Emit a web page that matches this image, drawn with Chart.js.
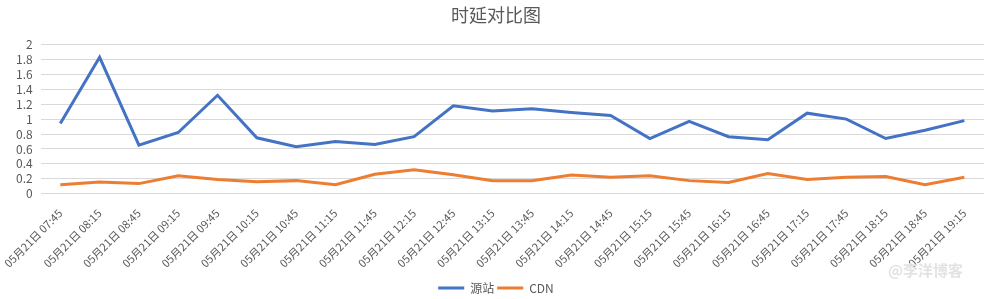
<!DOCTYPE html>
<html>
<head>
<meta charset="utf-8">
<script src="https://cdn.jsdelivr.net/npm/chart.js@4/dist/chart.umd.min.js"></script>
<style>
  html, body { margin: 0; padding: 0; background: #fff; }
  #wrap { width: 985px; height: 299px; }
</style>
</head>
<body>
<div id="wrap"><canvas id="chart"></canvas></div>
<script>
// 时延对比图：源站 vs CDN
const labels = [
    "05月21日 07:45", "05月21日 08:15", "05月21日 08:45", "05月21日 09:15",
    "05月21日 09:45", "05月21日 10:15", "05月21日 10:45", "05月21日 11:15",
    "05月21日 11:45", "05月21日 12:15", "05月21日 12:45", "05月21日 13:15",
    "05月21日 13:45", "05月21日 14:15", "05月21日 14:45", "05月21日 15:15",
    "05月21日 15:45", "05月21日 16:15", "05月21日 16:45", "05月21日 17:15",
    "05月21日 17:45", "05月21日 18:15", "05月21日 18:45", "05月21日 19:15"
];
const originValues = [0.94, 1.83, 0.65, 0.82, 1.32, 0.75, 0.63, 0.70, 0.66, 0.765, 1.18, 1.11,
                      1.14, 1.09, 1.05, 0.74, 0.97, 0.765, 0.725, 1.08, 1.0, 0.74, 0.85, 0.98];
const cdnValues = [0.12, 0.155, 0.135, 0.24, 0.19, 0.16, 0.175, 0.12, 0.26, 0.32, 0.255, 0.175,
                   0.175, 0.25, 0.22, 0.24, 0.175, 0.15, 0.27, 0.19, 0.22, 0.23, 0.12, 0.22];
const yTicks = [0, 0.2, 0.4, 0.6, 0.8, 1, 1.2, 1.4, 1.6, 1.8, 2];

const FONT = "'Noto Sans CJK SC', 'Noto Sans', sans-serif";
const GREY = "#595959";

// 右下角水印
const watermark = {
    id: "watermark",
    afterDraw(chart) {
        const c = chart.ctx;
        c.save();
        c.font = "bold 15px " + FONT;
        c.fillStyle = "#e3e3e3";
        c.textAlign = "right";
        c.textBaseline = "middle";
        c.fillText("@李洋博客", 963, 270);
        c.restore();
    }
};

new Chart(document.getElementById("chart").getContext("2d"), {
    type: "line",
    data: {
        labels,
        datasets: [
            { label: "源站", data: originValues, borderColor: "#4472C4", backgroundColor: "#4472C4", borderWidth: 3, pointRadius: 0, tension: 0 },
            { label: "CDN", data: cdnValues, borderColor: "#ED7D31", backgroundColor: "#ED7D31", borderWidth: 3, pointRadius: 0, tension: 0 }
        ]
    },
    options: {
        responsive: true,
        maintainAspectRatio: false,
        animation: false,
        layout: { padding: { left: 8, right: 1, top: 2, bottom: -5 } },
        plugins: {
            title: { display: true, text: "时延对比图", color: GREY, font: { family: FONT, size: 18, weight: "normal" }, padding: { top: 2, bottom: 19 } },
            legend: {
                position: "bottom",
                labels: {
                    color: GREY, font: { family: FONT, size: 12 },
                    boxWidth: 26, boxHeight: 3, padding: 3,
                    generateLabels(chart) {
                        return chart.data.datasets.map((d, i) => ({ text: d.label, fillStyle: d.borderColor, strokeStyle: d.borderColor, lineWidth: 0, fontColor: GREY, datasetIndex: i }));
                    }
                }
            },
            tooltip: { enabled: false }
        },
        scales: {
            x: {
                offset: true,
                grid: { display: false },
                border: { display: false },
                afterFit(axis) { axis.height += 4; },
                ticks: { color: GREY, font: { family: FONT, size: 11 }, minRotation: 45, maxRotation: 45, autoSkip: false, padding: 5 }
            },
            y: {
                min: 0, max: 2,
                afterBuildTicks(axis) { axis.ticks = yTicks.map(v => ({ value: v })); },
                grid: { color: "#d9d9d9", lineWidth: 1, drawTicks: false },
                border: { display: false },
                ticks: { color: GREY, font: { family: FONT, size: 12 }, padding: 8, autoSkip: false, callback: v => String(v) }
            }
        }
    },
    plugins: [watermark]
});
</script>
</body>
</html>
